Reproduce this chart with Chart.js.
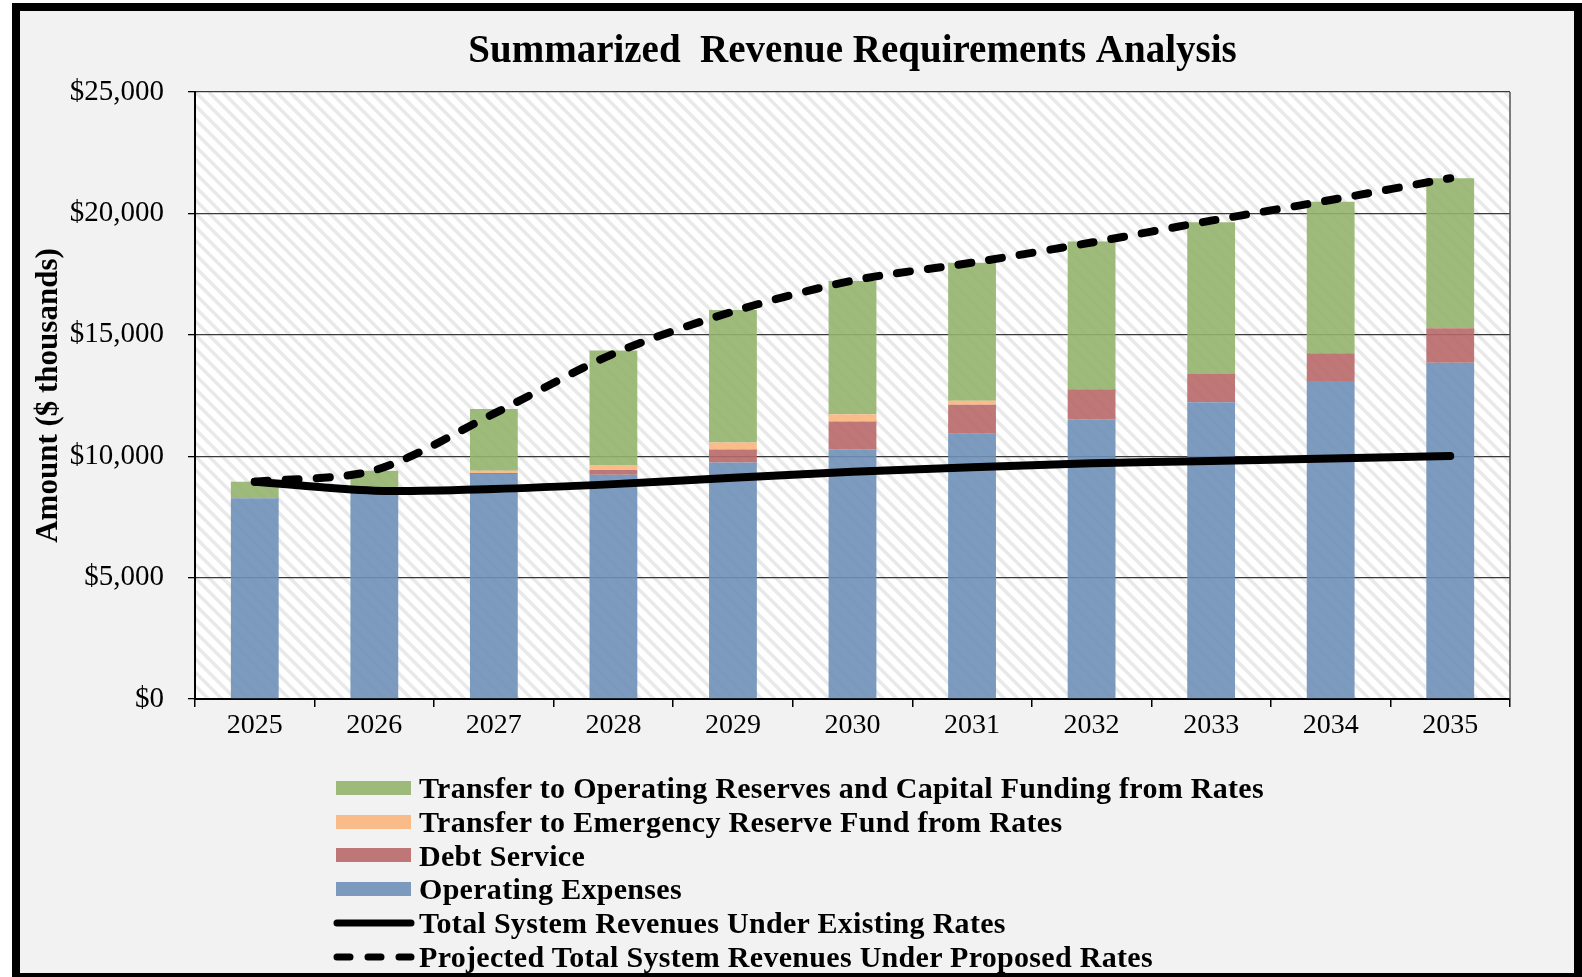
<!DOCTYPE html>
<html>
<head>
<meta charset="utf-8">
<script src="https://cdn.jsdelivr.net/npm/chart.js@4.4.1/dist/chart.umd.min.js"></script>
<style>
  body { margin: 0; background: #fff; font-family: "Liberation Serif", "Times New Roman", serif; }
  #frame { position: absolute; left: 12px; top: 3px; width: 1570px; height: 978px; box-sizing: border-box; border: 8px solid #000; background: #f2f2f2; overflow: hidden; }
  #chart { position: absolute; left: 0; top: 0; }
  #legend { position: absolute; left: 313px; top: 760px; }
  .item { display: flex; align-items: center; height: 33.8px; font-weight: bold; font-size: 30px; letter-spacing: 0.3px; color: #000; white-space: nowrap; }
  .item canvas { margin-right: 4px; }
</style>
</head>
<body>
<div id="frame">
  <canvas id="chart" width="1554" height="760"></canvas>
  <div id="legend"></div>
</div>
<script>
const years = ['2025', '2026', '2027', '2028', '2029', '2030', '2031', '2032', '2033', '2034', '2035'];
const operatingExpenses = [8270, 8650, 9270, 9240, 9740, 10290, 10920, 11520, 12220, 13100, 13850];
const debtService = [0, 0, 40, 190, 540, 1135, 1195, 1235, 1165, 1140, 1415];
const emergencyTransfer = [0, 0, 95, 210, 280, 305, 165, 0, 0, 0, 0];
const reserveTransfer = [680, 750, 2535, 4710, 5460, 5490, 5690, 6085, 6255, 6240, 6185];
const existingRevenue = [8950, 8580, 8650, 8850, 9110, 9360, 9540, 9710, 9800, 9910, 10010];
const proposedRevenue = [8950, 9420, 11750, 14220, 15960, 17230, 17970, 18800, 19700, 20550, 21450];
const yMax = 25000;
const yStep = 5000;

const serif = 'Liberation Serif';

// white plot area with light diagonal hatching, plus right frame edge
const plotBackground = {
    id: 'plotBackground',
    beforeDraw(chart) {
        const { ctx, chartArea: a } = chart;
        ctx.save();
        ctx.fillStyle = '#fff';
        ctx.fillRect(a.left, a.top, a.width, a.height);
        ctx.beginPath();
        ctx.rect(a.left, a.top, a.width, a.height);
        ctx.clip();
        ctx.strokeStyle = '#e9e9e9';
        ctx.lineWidth = 3.5;
        const h = a.height;
        for (let x = a.left - h; x < a.right; x += 13.5) {
            ctx.beginPath();
            ctx.moveTo(x, a.top);
            ctx.lineTo(x + h, a.bottom);
            ctx.stroke();
        }
        ctx.restore();
    },
    beforeDatasetsDraw(chart) {
        const { ctx, chartArea: a } = chart;
        ctx.save();
        ctx.strokeStyle = '#555';
        ctx.lineWidth = 1.5;
        ctx.beginPath();
        ctx.moveTo(a.right, a.top);
        ctx.lineTo(a.right, a.bottom);
        ctx.stroke();
        ctx.restore();
    },
};

const chart = new Chart(document.getElementById('chart'), {
    type: 'bar',
    data: {
        labels: years,
        datasets: [
            {
                label: 'Operating Expenses',
                data: operatingExpenses,
                backgroundColor: 'rgba(110,144,184,0.9)',
                order: 2,
            },
            {
                label: 'Debt Service',
                data: debtService,
                backgroundColor: 'rgba(184,104,104,0.9)',
                order: 2,
            },
            {
                label: 'Transfer to Emergency Reserve Fund from Rates',
                data: emergencyTransfer,
                backgroundColor: 'rgba(250,182,126,0.92)',
                order: 2,
            },
            {
                label: 'Transfer to Operating Reserves and Capital Funding from Rates',
                data: reserveTransfer,
                backgroundColor: 'rgba(149,180,110,0.9)',
                order: 2,
            },
            {
                type: 'line',
                label: 'Total System Revenues Under Existing Rates',
                data: existingRevenue,
                stack: 'existing',
                borderColor: '#000',
                borderWidth: 8,
                borderCapStyle: 'round',
                tension: 0.3,
                pointRadius: 0,
                pointHoverRadius: 0,
                fill: false,
                order: 1,
            },
            {
                type: 'line',
                label: 'Projected Total System Revenues Under Proposed Rates',
                data: proposedRevenue,
                stack: 'proposed',
                borderColor: '#000',
                borderWidth: 8,
                borderDash: [13, 18],
                borderCapStyle: 'round',
                tension: 0.3,
                pointRadius: 0,
                pointHoverRadius: 0,
                fill: false,
                order: 0,
            },
        ],
    },
    options: {
        responsive: false,
        animation: false,
        datasets: {
            bar: { barPercentage: 0.4, categoryPercentage: 1 },
        },
        layout: { padding: { left: 0, right: 64, top: 0, bottom: 0 } },
        plugins: {
            legend: { display: false },
            tooltip: { enabled: false },
            title: {
                display: true,
                fullSize: false,
                text: 'Summarized  Revenue Requirements Analysis',
                color: '#000',
                font: { family: serif, size: 39, weight: 'bold' },
                padding: { top: 18, bottom: 16.2 },
            },
        },
        scales: {
            x: {
                stacked: true,
                grid: {
                    offset: true,
                    drawOnChartArea: false,
                    tickLength: 8,
                    color: '#000',
                    lineWidth: 1.5,
                },
                border: { color: '#000', width: 2 },
                ticks: {
                    color: '#000',
                    padding: 2,
                    font: { family: serif, size: 28 },
                },
                afterFit(scale) { scale.height = 72; },
            },
            y: {
                stacked: true,
                min: 0,
                max: yMax,
                grid: {
                    color: '#3a3a3a',
                    lineWidth: 1.3,
                    tickLength: 7,
                    tickColor: '#000',
                },
                border: { color: '#000', width: 2 },
                ticks: {
                    stepSize: yStep,
                    color: '#000',
                    padding: 24,
                    font: { family: serif, size: 29 },
                    callback: (v) => '$' + v.toLocaleString('en-US'),
                },
                title: {
                    display: true,
                    text: 'Amount ($ thousands)',
                    color: '#000',
                    font: { family: serif, size: 31, weight: 'bold' },
                    padding: { top: 10, bottom: 0 },
                },
                afterFit(scale) { scale.width = 175; },
            },
        },
    },
    plugins: [plotBackground],
});

// legend: stacked rows, top segment first, then the two lines
const legend = document.getElementById('legend');
[3, 2, 1, 0, 4, 5].forEach((i) => {
    const ds = chart.data.datasets[i];
    const row = document.createElement('div');
    row.className = 'item';
    const sw = document.createElement('canvas');
    sw.width = 82;
    sw.height = 20;
    const c = sw.getContext('2d');
    if (ds.type === 'line') {
        c.strokeStyle = ds.borderColor;
        c.lineWidth = 7;
        c.lineCap = 'round';
        c.setLineDash(ds.borderDash || []);
        c.beginPath();
        c.moveTo(4, 10);
        c.lineTo(78, 10);
        c.stroke();
    } else {
        c.fillStyle = ds.backgroundColor;
        c.fillRect(3, 3, 75, 14);
    }
    row.appendChild(sw);
    const t = document.createElement('span');
    t.textContent = ds.label;
    row.appendChild(t);
    legend.appendChild(row);
});
</script>
</body>
</html>
